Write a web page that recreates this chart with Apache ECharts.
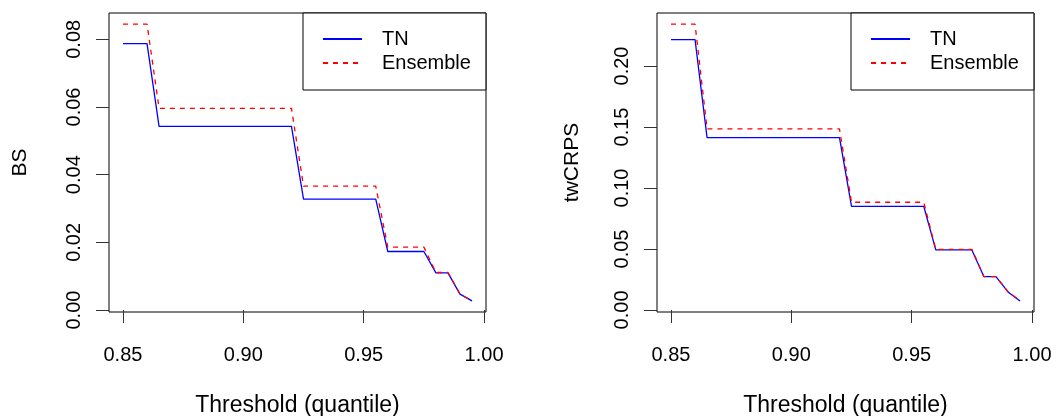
<!DOCTYPE html>
<html>
<head>
<meta charset="utf-8">
<script src="https://cdn.jsdelivr.net/npm/echarts@6/dist/echarts.min.js"></script>
<style>
html,body{margin:0;padding:0;background:#fff;}
#chart{width:1056px;height:416px;}
</style>
</head>
<body>
<div id="chart"></div>
<script>
// Thresholds (quantile)
var thresholds = [0.850,0.855,0.860,0.865,0.870,0.875,0.880,0.885,0.890,0.895,0.900,0.905,0.910,0.915,0.920,0.925,0.930,0.935,0.940,0.945,0.950,0.955,0.960,0.965,0.970,0.975,0.980,0.985,0.990,0.995];
// Brier score
var bsTN       = [0.0787,0.0787,0.0787,0.0543,0.0543,0.0543,0.0543,0.0543,0.0543,0.0543,0.0543,0.0543,0.0543,0.0543,0.0543,0.0328,0.0328,0.0328,0.0328,0.0328,0.0328,0.0328,0.0173,0.0173,0.0173,0.0173,0.0110,0.0110,0.0047,0.0027];
var bsEnsemble = [0.0845,0.0845,0.0845,0.0596,0.0596,0.0596,0.0596,0.0596,0.0596,0.0596,0.0596,0.0596,0.0596,0.0596,0.0596,0.0366,0.0366,0.0366,0.0366,0.0366,0.0366,0.0366,0.0186,0.0186,0.0186,0.0186,0.0111,0.0111,0.0047,0.0027];
// threshold-weighted CRPS
var twTN       = [0.2216,0.2216,0.2216,0.1413,0.1413,0.1413,0.1413,0.1413,0.1413,0.1413,0.1413,0.1413,0.1413,0.1413,0.1413,0.0850,0.0850,0.0850,0.0850,0.0850,0.0850,0.0850,0.0492,0.0492,0.0492,0.0492,0.0273,0.0273,0.0148,0.0074];
var twEnsemble = [0.2344,0.2344,0.2344,0.1484,0.1484,0.1484,0.1484,0.1484,0.1484,0.1484,0.1484,0.1484,0.1484,0.1484,0.1484,0.0883,0.0883,0.0883,0.0883,0.0883,0.0883,0.0883,0.0497,0.0497,0.0497,0.0497,0.0274,0.0274,0.0149,0.0075];
// tick labels
var xTicks = [0.85,0.90,0.95,1.00];
var bsTicks = [0.00,0.02,0.04,0.06,0.08];
var twTicks = [0.00,0.05,0.10,0.15,0.20];

function pairs(xs, ys){ return xs.map(function(x,i){ return [x, ys[i]]; }); }
// R-style 4% axis padding
function padRange(arrs){
  var mn = Infinity, mx = -Infinity;
  arrs.forEach(function(a){ a.forEach(function(v){ if(v<mn)mn=v; if(v>mx)mx=v; }); });
  var p = (mx-mn)*0.04; return [mn-p, mx+p];
}
var xr = padRange([thresholds]);
var bsr = padRange([bsTN, bsEnsemble]);
var twr = padRange([twTN, twEnsemble]);

var FONT = 'Liberation Sans, Arial, Helvetica, sans-serif';
var fmt = function(v){ return v.toFixed(2); };

function xAxis(idx){
  return {
    type:'value', gridIndex:idx, min:xr[0], max:xr[1],
    name:'Threshold (quantile)', nameLocation:'middle', nameGap:82,
    nameTextStyle:{fontFamily:FONT,fontSize:23,color:'#000'},
    axisLine:{show:false}, splitLine:{show:false},
    axisTick:{show:true, length:13, lineStyle:{color:'#333',width:1}, customValues:xTicks},
    axisLabel:{fontFamily:FONT,fontSize:20,color:'#000',margin:33, customValues:xTicks, formatter:fmt}
  };
}
function yAxis(idx, r, ticks, name, gap){
  return {
    type:'value', gridIndex:idx, min:r[0], max:r[1],
    name:name, nameLocation:'middle', nameGap:gap, nameRotate:90,
    nameTextStyle:{fontFamily:FONT,fontSize:21,color:'#000'},
    axisLine:{show:false}, splitLine:{show:false},
    axisTick:{show:true, length:13, lineStyle:{color:'#333',width:1}, customValues:ticks},
    axisLabel:{fontFamily:FONT,fontSize:20,color:'#000',margin:25,rotate:90, customValues:ticks, formatter:fmt}
  };
}
function legend(left){
  return {
    left:left, top:13, orient:'vertical',
    data:['TN','Ensemble'],
    itemWidth:39, itemHeight:14, itemGap:4,
    padding:[16,15,17,19],
    borderColor:'#000', borderWidth:1, backgroundColor:'#fff',
    selectedMode:false,
    itemStyle:{opacity:0},
    textStyle:{fontFamily:FONT,fontSize:20,color:'#000',lineHeight:20,padding:[0,0,0,15]}
  };
}
function line(name, xi, data, color, dashed){
  return {
    type:'line', name:name, xAxisIndex:xi, yAxisIndex:xi, data:data,
    symbol:'none', animation:false,
    lineStyle:{color:color, width:1.3, type: dashed ? [5,5] : 'solid'},
    itemStyle:{color:color}
  };
}

var chart = echarts.init(document.getElementById('chart'), null, {renderer:'canvas'});
chart.setOption({
  animation:false,
  backgroundColor:'#fff',
  grid:[
    {left:109, top:13, width:377, height:299, show:true, borderColor:'#000', borderWidth:1, backgroundColor:'transparent', containLabel:false, outerBoundsMode:'none'},
    {left:657, top:13, width:377, height:299, show:true, borderColor:'#000', borderWidth:1, backgroundColor:'transparent', containLabel:false, outerBoundsMode:'none'}
  ],
  legend:[legend(303), legend(851)],
  xAxis:[xAxis(0), xAxis(1)],
  yAxis:[yAxis(0,bsr,bsTicks,'BS',78), yAxis(1,twr,twTicks,'twCRPS',74)],
  series:[
    line('TN',0,pairs(thresholds,bsTN),'#0000FF',false),
    line('Ensemble',0,pairs(thresholds,bsEnsemble),'#FF0000',true),
    line('TN',1,pairs(thresholds,twTN),'#0000FF',false),
    line('Ensemble',1,pairs(thresholds,twEnsemble),'#FF0000',true)
  ]
});
</script>
</body>
</html>
